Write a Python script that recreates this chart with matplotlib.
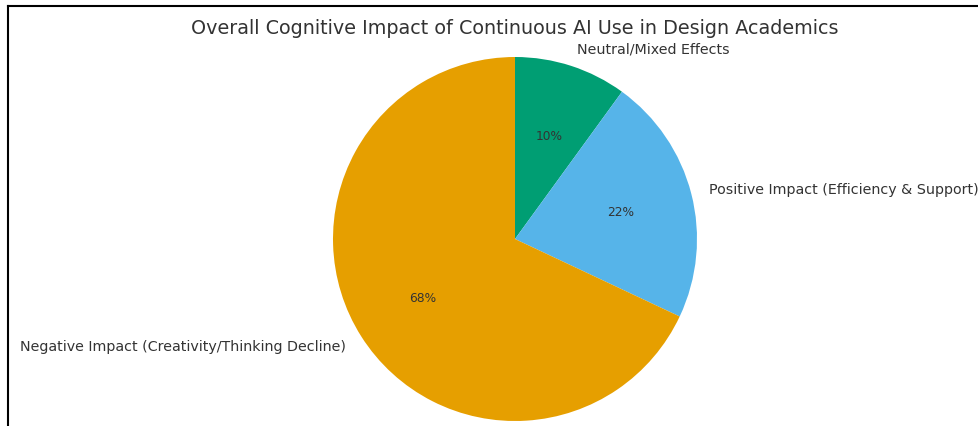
import matplotlib
matplotlib.use("Agg")
import matplotlib.pyplot as plt
from matplotlib.lines import Line2D

# data
labels = ["Neutral/Mixed Effects",
          "Positive Impact (Efficiency & Support)",
          "Negative Impact (Creativity/Thinking Decline)"]
shares = [10, 22, 68]
colors = ["#009E73", "#56B4E9", "#E69F00"]

W, H = 979, 427
fig = plt.figure(figsize=(W / 100, H / 100), dpi=100)

# pie axes: centre (515, 240) px, radius 182 px
cx, cy, r = 515, 240, 182
ax = fig.add_axes([(cx - r) / W, (H - cy - r) / H, 2 * r / W, 2 * r / H])
wedges, texts, autotexts = ax.pie(
    shares, labels=labels, colors=colors, autopct="%1.0f%%",
    startangle=90, counterclock=False, radius=1,
    textprops={"color": "#333333"})
for t in texts:
    t.set_fontsize(10.3)
for t in autotexts:
    t.set_fontsize(8.8)
ax.set_xlim(-1, 1)
ax.set_ylim(-1, 1)
ax.set_aspect("equal")
ax.axis("off")

fig.text(cx / W, 1 - 28 / H,
         "Overall Cognitive Impact of Continuous AI Use in Design Academics",
         ha="center", va="center", fontsize=13.8, color="#333333")

# screenshot frame (top and left edges only)
fig.add_artist(Line2D([8 / W, 1], [1 - 6.5 / H, 1 - 6.5 / H], color="black", lw=1.5))
fig.add_artist(Line2D([8 / W, 8 / W], [0, 1 - 6.5 / H], color="black", lw=1.5))

fig.savefig("out.png", dpi=100)
